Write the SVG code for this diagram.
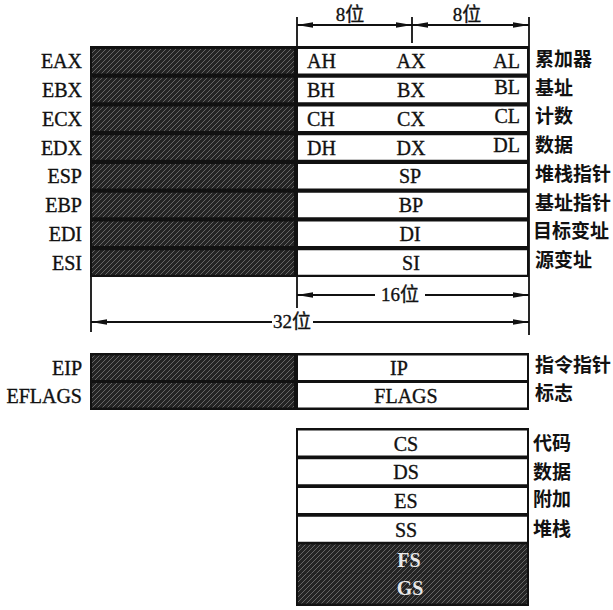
<svg xmlns="http://www.w3.org/2000/svg" width="613" height="610" viewBox="0 0 613 610">
<defs>
<pattern id="hatch" patternUnits="userSpaceOnUse" width="5" height="5">
<rect width="5" height="5" fill="#242424"/>
<path d="M0,5 L5,0 M-1,1 L1,-1 M4,6 L6,4" stroke="#7c7c7c" stroke-width="0.75"/>
</pattern>
<marker id="arr" viewBox="0 0 16 7" refX="16" refY="3.5" markerWidth="16" markerHeight="7" markerUnits="userSpaceOnUse" orient="auto-start-reverse">
<path d="M0,0.7 L16,3.5 L0,6.3 z" fill="#111"/>
</marker>
<style>
.blk{fill:#111}
.dk{fill:url(#hatch)}
.wh{fill:#fff}
.t{font-family:"Liberation Serif","Noto Sans CJK SC",serif;font-size:20px;fill:#111;stroke:#111;stroke-width:0.35}
.m{text-anchor:middle}
.e{text-anchor:end}
.cn{font-family:"Noto Sans CJK SC","Noto Sans CJK JP",sans-serif;font-size:19px;font-weight:bold;fill:#111}
.dim{font-family:"Liberation Serif","Noto Sans CJK SC",serif;font-size:19px;fill:#111;stroke:#111;stroke-width:0.35;text-anchor:middle}
.ln{stroke:#111;stroke-width:1.8;fill:none}
.ar{stroke:#111;stroke-width:1.8;fill:none;marker-end:url(#arr)}
.ws{font-family:"Liberation Serif",serif;font-size:20px;font-weight:bold;fill:#e8e8e8;text-anchor:middle}
</style>
</defs>
<rect width="613" height="610" fill="#fff"/>

<!-- general registers block -->
<g id="gpr-block">
<rect class="blk" x="90" y="46" width="439" height="231"/>
</g>
<g id="eax">
<rect class="dk" x="92" y="49" width="202" height="24.5"/>
<rect class="wh" x="298" y="49" width="229" height="24.5"/>
<text class="t e" x="82" y="68">EAX</text>
<text class="t" x="307" y="68">AH</text>
<text class="t m" x="411" y="68">AX</text>
<text class="t e" x="520" y="68">AL</text>
<text class="cn" x="535" y="66">累加器</text>
</g>
<g id="ebx">
<rect class="dk" x="92" y="77.75" width="202" height="24.5"/>
<rect class="wh" x="298" y="77.75" width="229" height="24.5"/>
<text class="t e" x="82" y="97">EBX</text>
<text class="t" x="307" y="97">BH</text>
<text class="t m" x="411" y="97">BX</text>
<text class="t e" x="520" y="94">BL</text>
<text class="cn" x="535" y="94.5">基址</text>
</g>
<g id="ecx">
<rect class="dk" x="92" y="106.5" width="202" height="24.5"/>
<rect class="wh" x="298" y="106.5" width="229" height="24.5"/>
<text class="t e" x="82" y="125.7">ECX</text>
<text class="t" x="307" y="125.7">CH</text>
<text class="t m" x="411" y="125.7">CX</text>
<text class="t e" x="520" y="122.5">CL</text>
<text class="cn" x="535" y="123.2">计数</text>
</g>
<g id="edx">
<rect class="dk" x="92" y="135.25" width="202" height="24.5"/>
<rect class="wh" x="298" y="135.25" width="229" height="24.5"/>
<text class="t e" x="82" y="154.5">EDX</text>
<text class="t" x="307" y="154.5">DH</text>
<text class="t m" x="411" y="154.5">DX</text>
<text class="t e" x="520" y="151.5">DL</text>
<text class="cn" x="535" y="152">数据</text>
</g>
<g id="esp">
<rect class="dk" x="92" y="164" width="202" height="24.5"/>
<rect class="wh" x="298" y="164" width="229" height="24.5"/>
<text class="t e" x="82" y="183.2">ESP</text>
<text class="t m" x="410" y="183.2">SP</text>
<text class="cn" x="535" y="180.7">堆栈指针</text>
</g>
<g id="ebp">
<rect class="dk" x="92" y="192.75" width="202" height="24.5"/>
<rect class="wh" x="298" y="192.75" width="229" height="24.5"/>
<text class="t e" x="82" y="212">EBP</text>
<text class="t m" x="411" y="212">BP</text>
<text class="cn" x="535" y="209.5">基址指针</text>
</g>
<g id="edi">
<rect class="dk" x="92" y="221.5" width="202" height="24.5"/>
<rect class="wh" x="298" y="221.5" width="229" height="24.5"/>
<text class="t e" x="82" y="240.7">EDI</text>
<text class="t m" x="410" y="240.7">DI</text>
<text class="cn" x="533" y="238.2">目标变址</text>
</g>
<g id="esi">
<rect class="dk" x="92" y="250.25" width="202" height="24.5"/>
<rect class="wh" x="298" y="250.25" width="229" height="24.5"/>
<text class="t e" x="82" y="269.5">ESI</text>
<text class="t m" x="411" y="269.5">SI</text>
<text class="cn" x="535" y="267">源变址</text>
</g>

<!-- EIP / EFLAGS -->
<g id="ctl-block">
<rect class="blk" x="90" y="353" width="439" height="57"/>
</g>
<g id="eip">
<rect class="dk" x="92" y="355.5" width="202" height="24.5"/>
<rect class="wh" x="298" y="355.5" width="229" height="24.5"/>
<text class="t e" x="82" y="375">EIP</text>
<text class="t m" x="399" y="375">IP</text>
<text class="cn" x="535" y="372">指令指针</text>
</g>
<g id="eflags">
<rect class="dk" x="92" y="383" width="202" height="24.5"/>
<rect class="wh" x="298" y="383" width="229" height="24.5"/>
<text class="t e" x="82" y="402.5">EFLAGS</text>
<text class="t m" x="406" y="402.5">FLAGS</text>
<text class="cn" x="535" y="399.5">标志</text>
</g>

<!-- segment registers -->
<g id="seg-block">
<rect class="blk" x="296" y="428" width="233" height="178"/>
</g>
<g id="cs">
<rect class="wh" x="298" y="430.5" width="229" height="25"/>
<text class="t m" x="406" y="450.5">CS</text>
<text class="cn" x="533" y="450">代码</text>
</g>
<g id="ds">
<rect class="wh" x="298" y="459.25" width="229" height="25"/>
<text class="t m" x="406" y="479">DS</text>
<text class="cn" x="533" y="478.5">数据</text>
</g>
<g id="es">
<rect class="wh" x="298" y="488" width="229" height="25"/>
<text class="t m" x="406" y="507.8">ES</text>
<text class="cn" x="533" y="506">附加</text>
</g>
<g id="ss">
<rect class="wh" x="298" y="516.75" width="229" height="25"/>
<text class="t m" x="406" y="536.5">SS</text>
<text class="cn" x="533" y="535.5">堆栈</text>
</g>
<g id="fs">
<rect class="dk" x="298" y="544.5" width="229" height="29"/>
<text class="ws" x="409" y="567">FS</text>
</g>
<g id="gs">
<rect class="dk" x="298" y="573.5" width="229" height="30"/>
<text class="ws" x="410" y="595">GS</text>
</g>

<!-- dimension lines -->
<g id="connectors">
<path class="ln" d="M297,17 V46 M412,17 V43 M529,17 V335 M297,277 V308 M91,277 V332"/>
<path class="ar" d="M355,25 H297"/>
<path class="ar" d="M355,25 H412"/>
<path class="ar" d="M470,25 H412"/>
<path class="ar" d="M470,25 H529"/>
<path class="ar" d="M375,295 H297"/>
<path class="ar" d="M425,295 H529"/>
<path class="ar" d="M272,322 H91"/>
<path class="ar" d="M313,322 H529"/>
</g>
<g id="dim-labels">
<text class="dim" x="350" y="21">8位</text>
<text class="dim" x="467" y="21">8位</text>
<text class="dim" x="400" y="301">16位</text>
<text class="dim" x="292" y="328">32位</text>
</g>
</svg>
